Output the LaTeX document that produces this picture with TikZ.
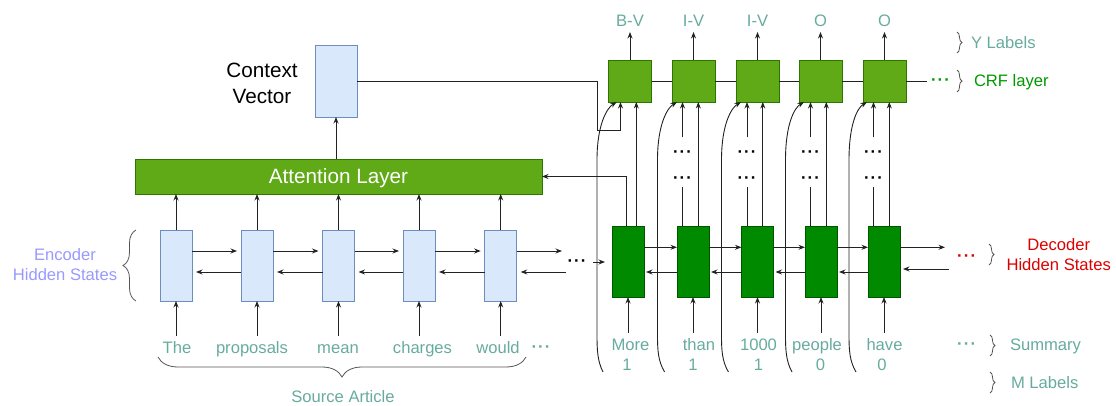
\documentclass[tikz,border=0pt]{standalone}
\usepackage{fontspec}
\setmainfont{Liberation Sans}
\usetikzlibrary{arrows.meta,decorations.pathreplacing,calc}
\definecolor{tealtxt}{HTML}{67AB9F}
\definecolor{lavtxt}{HTML}{9999FF}
\definecolor{redtxt}{HTML}{DD0000}
\definecolor{greentxt}{HTML}{009900}
\definecolor{encfill}{HTML}{DAE8FC}
\definecolor{encline}{HTML}{6C8EBF}
\definecolor{crffill}{HTML}{60A917}
\definecolor{crfline}{HTML}{2D7600}
\definecolor{decfill}{HTML}{008A00}
\definecolor{decline}{HTML}{005700}
\definecolor{linec}{HTML}{222222}
\definecolor{bracec}{HTML}{555555}
\newcommand{\mydots}{\textbf{·\kern1.2pt·\kern1.2pt·}}
\begin{document}
\begin{tikzpicture}[x=1pt,y=-1pt,
  every node/.style={inner sep=0pt, outer sep=0pt},
  arr/.style={draw=linec, line width=0.9pt, -{Stealth[length=6.5pt,width=5pt]}},
  ln/.style={draw=linec, line width=0.9pt},
  encbox/.style={draw=encline, fill=encfill, line width=0.9pt, minimum width=32pt, minimum height=71pt},
  decbox/.style={draw=decline, fill=decfill, line width=0.9pt, minimum width=32pt, minimum height=71pt},
  crfbox/.style={draw=crfline, fill=crffill, line width=0.9pt, minimum width=43pt, minimum height=42pt},
  sm/.style={font=\fontsize{16.6}{20}\selectfont, align=center},
  big/.style={font=\fontsize{20.7}{26}\selectfont, align=center},
  word/.style={sm, text=tealtxt, anchor=base},
  dotsn/.style={sm, anchor=base},
  brc/.style={draw=bracec, line width=0.8pt, decorate, decoration={brace, amplitude=#1}},
  brc/.default=5pt,
]
\useasboundingbox (0,0) rectangle (1116,406);

% ---------- context vector and attention ----------
\node[encbox, minimum width=42pt, minimum height=72pt] (ctx) at (336,81) {};
\node[big] (ctxlbl) at (262,83) {Context\\Vector};
\node[big, draw=crfline, fill=crffill, line width=0.9pt, minimum width=407pt,
      minimum height=35pt, text=white, text depth=0pt] (att) at (338.5,176.5) {Attention Layer};
\draw[arr] (att.north -| ctx.south) -- (ctx.south);

% ---------- encoder ----------
\foreach \i/\x in {1/176,2/257,3/338.5,4/419,5/500.7}
  \node[encbox] (e\i) at (\x,265.5) {};
\foreach \i in {1,...,5} {
  \draw[arr] (e\i.north) -- (e\i.north |- att.south);
  \draw[arr] ([yshift=-35pt]e\i.south) -- (e\i.south);
}
\foreach \i/\j in {1/2,2/3,3/4,4/5} {
  \draw[arr] ([yshift=14.5pt]e\i.east) -- ([yshift=14.5pt,xshift=-4pt]e\j.west);
  \draw[arr] ([yshift=-6.5pt]e\j.west) -- ([yshift=-6.5pt,xshift=4pt]e\i.east);
}
\coordinate (eout) at (562,251);
\coordinate (ein) at (566,272);
\draw[arr] ([yshift=14.5pt]e5.east) -- (eout);
\draw[arr] (ein) -- ([yshift=-6.5pt,xshift=4pt]e5.east);

\node[word] (w1) at (177,353) {The};
\node[word] (w2) at (252,353) {proposals};
\node[word] (w3) at (338,353) {mean};
\node[word] (w4) at (422.5,353) {charges};
\node[word] (w5) at (498,353) {would};
\node[dotsn, text=tealtxt] (wdots) at (541,352) {\mydots};

\draw[brc=20pt] (526,357) -- (158,357);
\node[word] (src) at (343,402.5) {Source Article};

\draw[brc=13pt] (136,301) -- (136,230);
\node[sm, text=lavtxt] (enclbl) at (65,264.5) {Encoder\\Hidden States};

% ---------- bridge ----------
\node[dotsn, text=black] (edots) at (577,266) {\mydots};
\coordinate (dinl) at (605,262);
\draw[arr] ($(edots.east |- dinl)+(6.5,0)$) -- (dinl);

% ---------- decoder ----------
\foreach \i/\x in {1/628,2/693,3/757.5,4/821,5/884}
  \node[decbox] (d\i) at (\x,261.5) {};
\foreach \i in {1,...,5}
  \draw[arr] ([yshift=-36pt]d\i.south) -- (d\i.south);
\foreach \i/\j in {1/2,2/3,3/4,4/5} {
  \draw[arr] ([yshift=14.2pt]d\i.east) -- ([yshift=14.2pt]d\j.west);
  \draw[arr] ([yshift=-10.5pt]d\j.west) -- ([yshift=-10.5pt,xshift=2pt]d\i.east);
}
\coordinate (dout) at (945,247.3);
\coordinate (din) at (949,269);
\draw[arr] ([yshift=14.2pt]d5.east) -- (dout);
\draw[arr] (din) -- ($(d5.east |- din)+(3,0)$);

\node[word] (s1) at (630.5,350) {More};
\node[word] (s2) at (699,350) {than};
\node[word] (s3) at (758.5,350) {1000};
\node[word] (s4) at (817,350) {people};
\node[word] (s5) at (884.5,350) {have};
\node[word] (m1) at (627,370.7) {1};
\node[word] (m2) at (693,370.7) {1};
\node[word] (m3) at (758.5,370.7) {1};
\node[word] (m4) at (820.5,370.7) {0};
\node[word] (m5) at (882,370.7) {0};

% ---------- CRF ----------
\foreach \i/\x/\lab in {1/630/B-V,2/693.5/I-V,3/757.5/I-V,4/820.5/O,5/884.5/O} {
  \node[crfbox] (c\i) at (\x,81) {};
  \node[word] (y\i) at (\x,26.7) {\lab};
  \draw[arr] (c\i.north) -- ([yshift=28pt]c\i.north);
}
\foreach \i/\j in {1/2,2/3,3/4,4/5}
  \draw[ln] (c\i.east) -- (c\j.west);
\coordinate (crfend) at (927,81);
\draw[ln] (c5.east) -- (crfend);
\node[dotsn, text=greentxt] (crfdots) at (940.5,85.8) {\mydots};

% context vector into first CRF cell
\coordinate (cbend) at (597.5,130.5);
\draw[arr] (ctx.east) -| (cbend) -| ([xshift=-9.5pt]c1.south);
% decoder state back to attention
\draw[arr] ([xshift=-1.3pt]d1.north) |- (att.east);
% decoder 1 to CRF 1
\draw[arr] ($(d1.north)+(8.3,0)$) -- ($(d1.north |- c1.south)+(8.3,0)$);

% decoder k to CRF k (k = 2..5)
\foreach \k in {2,...,5} {
  \draw[ln] ($(d\k.north)+(-10.5,0)$) -- ($(d\k.north)+(-10.5,-38.7)$);
  \node[dotsn, text=black] (mda\k) at ($(d\k.north |- 0,183.1)+(-10.5,0)$) {\mydots};
  \node[dotsn, text=black] (mdb\k) at ($(d\k.north |- 0,157.1)+(-10.5,0)$) {\mydots};
  \draw[arr] ($(c\k.south -| d\k.north)+(-10.5,35.3)$) -- ($(c\k.south -| d\k.north)+(-10.5,0)$);
  \draw[arr] ($(d\k.north)+(5.3,0)$) -- ($(c\k.south -| d\k.north)+(5.3,0)$);
}

% curved connectors from the M labels to the CRF cells
\foreach \k/\v/\s/\dt in {1/597/603/-13.3,2/657.5/664.6/-16.5,3/721.5/728.4/-16.5,4/785.5/792/-16.5,5/849/856/-17.5} {
  \coordinate (cs\k) at (\s,372);
  \draw[arr] (cs\k) .. controls (\v+0.5,361) and (\v,350) .. (\v,335) -- (\v,160)
     .. controls (\v,125) and ($(c\k.south)+(\dt-10,6)$) .. ($(c\k.south)+(\dt,0)$);
}

% ---------- right-hand legend ----------
\draw[brc] (957,32) -- (957,53);
\node[sm, text=tealtxt, anchor=base west] (ylab) at (971,48.2) {Y Labels};
\draw[brc] (957,70) -- (957,92);
\node[sm, text=greentxt, anchor=base west] (crflab) at (974,86.9) {CRF layer};
\node[dotsn, text=redtxt] (rdots) at (966.7,261.8) {\mydots};
\draw[brc] (989,244) -- (989,265);
\node[sm, text=redtxt] (declab) at (1058.7,255) {Decoder\\Hidden States};
\node[dotsn, text=tealtxt] (sdots) at (966.7,349.8) {\mydots};
\draw[brc] (990,335) -- (990,356);
\node[sm, text=tealtxt, anchor=base west] (sumlab) at (1010,350.5) {Summary};
\draw[brc] (990,372) -- (990,393);
\node[sm, text=tealtxt, anchor=base west] (mlab) at (1011,388) {M Labels};
\end{tikzpicture}
\end{document}
